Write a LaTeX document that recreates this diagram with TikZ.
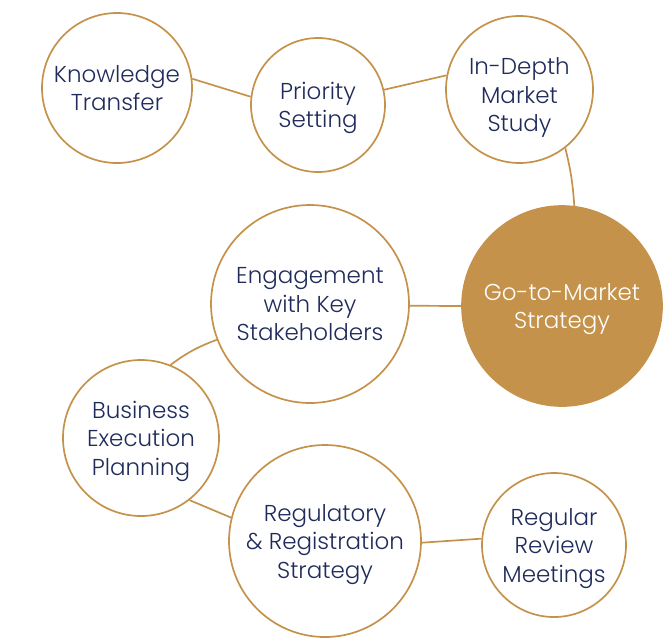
\documentclass[tikz,border=0pt]{standalone}
\usepackage{fontspec}
\setmainfont{Poppins}[UprightFont=* Light]
\usepackage{tikz}
\usetikzlibrary{positioning}
\definecolor{gold}{HTML}{C4924A}
\definecolor{navy}{HTML}{1F2B5A}

\begin{document}
\begin{tikzpicture}[x=1pt,y=-1pt,
        bubble/.style={
            circle,
            draw=gold,
            line width=1.7pt,
            inner sep=0pt,
            text=navy,
            align=center,
            text depth=0pt,
            font=\fontsize{23}{28.5}\selectfont
        },
        hub/.style={bubble, fill=gold, text=white},
        link/.style={draw=gold, line width=1.7pt}
    ]
    \useasboundingbox (0,0) rectangle (666,641);
    \node (kt) [bubble, minimum size=150pt] at (117,88) {Knowledge\\Transfer};
    \node (ps) [bubble, minimum size=134pt] at (318,105) {Priority\\Setting};
    \node (ids) [bubble, minimum size=147pt, text height=84pt] at (519.5,89.5) {In-Depth\\Market\\Study};
    \node (gtm) [hub, minimum size=200pt] at (562,306) {Go-to-Market\\Strategy};
    \node (eks) [bubble, minimum size=198pt] at (310,304) {Engagement\\with Key\\Stakeholders};
    \node (bep) [bubble, minimum size=156pt] at (141,438) {Business\\Execution\\Planning};
    \node (rrs) [bubble, minimum size=192pt] at (325,541) {Regulatory\\\& Registration\\Strategy};
    \node (rrm) [bubble, minimum size=144pt] at (554,545) {Regular\\Review\\Meetings};
    % connectors
    \draw[link] (kt.7) -- (ps.173);
    \draw[link] (ps.13) -- (ids.169);
    \draw[link] (ids.-52) to[bend left=5] (gtm.83);
    \draw[link] (eks.-1) -- (gtm.180);
    \draw[link] (eks.201) to[bend right=8] (bep.68);
    \draw[link] (bep.-52) -- (rrs.166);
    \draw[link] (rrs.-1) -- (rrm.175);
\end{tikzpicture}
\end{document}
